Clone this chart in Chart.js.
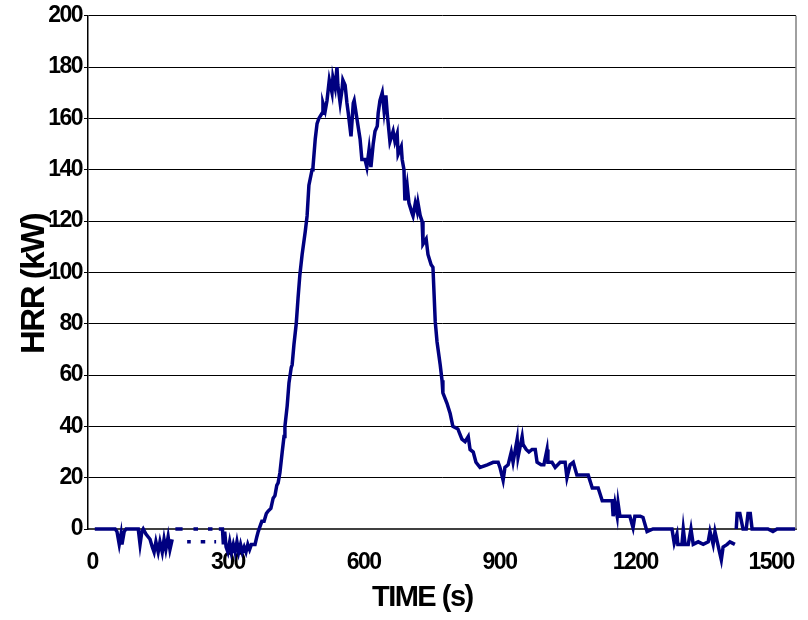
<!DOCTYPE html>
<html>
<head>
<meta charset="utf-8">
<script src="https://cdn.jsdelivr.net/npm/chart.js@4.4.1/dist/chart.umd.min.js"></script>
<style>
  body { margin: 0; background: #fff; }
  #hrrChart { display: block; }
</style>
</head>
<body>
<canvas id="hrrChart" width="808" height="620"></canvas>
<script>
// time (s) and heat release rate (kW); null = gap in the trace
const timeS = [
    6, 17, 29, 40, 51, 55, 60, 64, 66, 71, 75, 84, 95, 102, 106, 110, 113, 119, 128, 133,
    137, 141, 146, 150, 155, 159, 163, 168, 172, 177, 180, 184, 200, 205, 210, 218, 221, 224, 234, 237,
    240, 250, 253, 256, 266, 268, 270, 274, 277, 280, 288, 290, 293, 296, 300, 304, 308, 312, 316, 320,
    324, 328, 332, 336, 340, 344, 348, 352, 356, 360, 364, 367, 371, 375, 380, 385, 389, 395, 400, 404,
    408, 411, 415, 420, 424, 426, 431, 435, 440, 442, 446, 451, 455, 459, 464, 471, 475, 479, 486, 488,
    493, 497, 501, 508, 510, 515, 519, 524, 530, 532, 537, 541, 543, 548, 552, 554, 559, 563, 566, 572,
    577, 579, 585, 592, 596, 603, 607, 612, 616, 621, 625, 630, 632, 636, 641, 645, 649, 652, 658, 665,
    669, 674, 676, 683, 685, 689, 691, 696, 700, 707, 709, 714, 718, 720, 725, 729, 731, 738, 742, 749,
    753, 758, 762, 769, 773, 775, 784, 791, 797, 808, 817, 824, 831, 835, 842, 848, 857, 873, 886, 897,
    901, 908, 912, 919, 926, 930, 939, 941, 950, 952, 959, 965, 972, 979, 983, 992, 998, 1005, 1007, 1016,
    1023, 1034, 1045, 1049, 1056, 1063, 1071, 1085, 1096, 1105, 1118, 1127, 1138, 1149, 1151, 1155, 1160, 1162, 1166, 1177,
    1188, 1195, 1199, 1211, 1217, 1226, 1239, 1255, 1270, 1281, 1286, 1292, 1294, 1303, 1306, 1310, 1317, 1323, 1328, 1339,
    1350, 1361, 1365, 1372, 1376, 1381, 1390, 1394, 1403, 1409, 1420, 1422, 1423, 1425, 1431, 1438, 1445, 1449, 1454, 1458,
    1469, 1482, 1493, 1504, 1513, 1526, 1542, 1553
];
const hrrKW = [
    0, 0, 0, 0, 0, -1, -6, -2, -6, -1, 0, 0, 0, 0, -6, -1, 0, -2, -4, -7,
    -9, -5, -9, -5, -9, -4, -8, -3, -8, -4, null, 0, 0, null, -5, -5, null, 0, 0, null,
    -5, -5, null, 0, 0, null, -5, -5, null, 0, 0, -6, -1, -7, -9, -5, -9, -6, -9, -5,
    -9, -6, -9, -7, -9, -6, -8, -6, -6, -6, -3, -1, 1, 3, 3, 6, 7, 8, 12, 13,
    17, 18, 22, 30, 36, 40, 48, 57, 63, 64, 72, 80, 90, 99, 107, 116, 122, 134, 140, 141,
    152, 158, 160, 162, 166, 163, 167, 175, 170, 176, 172, 180, 173, 166, 171, 175, 173, 166, 162, 153,
    166, 167, 160, 152, 144, 144, 141, 148, 141, 150, 155, 157, 162, 167, 170, 163, 169, 162, 151, 155,
    151, 154, 146, 149, 144, 140, 128, 134, 127, 123, 122, 127, 124, 127, 122, 120, 111, 113, 107, 103,
    102, 81, 73, 64, 58, 53, 49, 45, 40, 39, 35, 34, 36, 31, 30, 26, 24, 25, 26, 26,
    24, 19, 24, 25, 30, 26, 35, 28, 36, 33, 31, 30, 31, 31, 26, 25, 25, 31, 26, 26,
    24, 26, 26, 20, 25, 26, 21, 21, 21, 16, 16, 11, 11, 11, 5, 10, 5, 10, 5, 5,
    5, 0.5, 5, 5, 4.5, -1, 0, 0, 0, 0, -5.5, -2, -6, -6, 0, -6, -6, 0, -6, -5,
    -6, -5, -1, -6, -1, -5, -12, -7, -6, -5, -6, null, 0, 6, 6, 0, 0, 6, 6, 0,
    0, 0, 0, -1, 0, 0, 0, 0
];
const xTicks = [0, 300, 600, 900, 1200, 1500];
const yTicks = [0, 20, 40, 60, 80, 100, 120, 140, 160, 180, 200];

const tickFont = { family: "'Liberation Sans', Arial, sans-serif", size: 23, weight: 'bold' };

// the original labels are set tight, squeeze the letters a bit
const tightText = {
    id: 'tightText',
    beforeUpdate(chart) { chart.ctx.letterSpacing = '-1.5px'; },
    beforeDraw(chart) { chart.ctx.letterSpacing = '-1.5px'; }
};

// thin grey frame line on the right side of the plot
const plotFrame = {
    id: 'plotFrame',
    beforeDatasetsDraw(chart) {
        const { ctx, chartArea } = chart;
        ctx.save();
        ctx.strokeStyle = '#808080';
        ctx.lineWidth = 1.5;
        ctx.beginPath();
        ctx.moveTo(chartArea.right, chartArea.top);
        ctx.lineTo(chartArea.right, chartArea.bottom);
        ctx.stroke();
        ctx.restore();
    }
};

const ctx = document.getElementById('hrrChart').getContext('2d');
new Chart(ctx, {
    type: 'line',
    data: {
        datasets: [{
            label: 'HRR',
            data: timeS.map((t, i) => ({ x: t, y: hrrKW[i] })),
            borderColor: '#000080',
            borderWidth: 3.5,
            pointRadius: 0,
            tension: 0,
            spanGaps: false,
            clip: false
        }]
    },
    options: {
        responsive: false,
        animation: false,
        layout: { padding: { top: 14, right: 12, left: 0, bottom: 0 } },
        plugins: {
            legend: { display: false },
            tooltip: { enabled: false }
        },
        scales: {
            x: {
                type: 'linear',
                min: -9,
                max: 1555,
                afterBuildTicks: (scale) => { scale.ticks = xTicks.map(v => ({ value: v })); },
                afterFit: (scale) => {
                    scale.height = 91;
                    scale.paddingLeft = 0;
                    scale.paddingRight = 0;
                },
                grid: { display: false, drawTicks: false },
                border: { display: true, color: '#404040', width: 2 },
                ticks: { color: '#000', font: tickFont, padding: 20, maxRotation: 0, callback: (v) => String(v) },
                title: {
                    display: true,
                    text: 'TIME (s)      ',
                    color: '#000',
                    font: { family: "'Liberation Sans', Arial, sans-serif", size: 29, weight: 'bold' },
                    padding: { top: 0, bottom: 5 }
                }
            },
            y: {
                min: 0,
                max: 200,
                afterBuildTicks: (scale) => { scale.ticks = yTicks.map(v => ({ value: v })); },
                afterFit: (scale) => { scale.width = 88; },
                grid: { color: '#000', lineWidth: 1, tickLength: 4 },
                border: { display: true, color: '#000', width: 1.5 },
                ticks: { color: '#000', font: tickFont, padding: 2, callback: (v) => String(v) },
                title: {
                    display: true,
                    text: 'HRR (kW)   ',
                    color: '#000',
                    font: { family: "'Liberation Sans', Arial, sans-serif", size: 33, weight: 'bold' },
                    padding: { top: 15, bottom: 0 }
                }
            }
        }
    },
    plugins: [tightText, plotFrame]
});
</script>
</body>
</html>
